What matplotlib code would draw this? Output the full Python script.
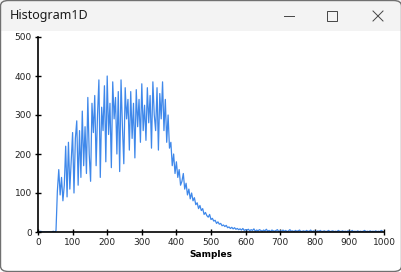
import numpy as np
import matplotlib
matplotlib.use('Agg')
import matplotlib.pyplot as plt
from matplotlib.patches import FancyBboxPatch, Rectangle

# histogram counts, one value per 4-sample bin
counts_start = [0, 0, 2, 0, 0, 0, 0, 0, 0, 0, 0, 2, 0, 3]
counts_body = [105, 160, 95, 140, 80, 120, 220, 90, 230, 110,
               180, 255, 100, 240, 285, 120, 260, 140, 310, 170,
               270, 150, 345, 200, 130, 330, 255, 350, 170, 300,
               390, 140, 320, 260, 375, 180, 400, 250, 330, 165,
               385, 290, 345, 200, 360, 155, 390, 270, 175, 370,
               290, 340, 210, 360, 240, 330, 190, 365, 270, 340,
               230, 380, 260, 325, 235, 370, 280, 350, 215, 385,
               300, 260, 370, 210, 355, 290, 385, 260, 340, 230,
               300, 215, 230, 170, 200, 150, 180, 140, 160, 120,
               130, 150, 110, 125, 95, 110, 85, 100, 80, 88,
               70, 75, 60, 68, 55, 60, 45, 50, 42, 38,
               45, 32, 35, 28, 30, 22, 26, 20, 22, 16,
               18, 14, 17, 11, 13, 9, 12, 8, 11, 7,
               9, 6, 8, 5, 9, 4, 6]
counts_tail = [5, 7, 3, 6, 4, 8, 2, 5, 3, 6,
               4, 2, 5, 3, 7, 2, 4, 1, 5, 3,
               2, 4, 6, 1, 3, 2, 5, 2, 4, 1,
               3, 6, 2, 3, 1, 4, 2, 3, 5, 1,
               2, 3, 1, 4, 2, 2, 5, 1, 3, 2,
               1, 3, 2, 4, 1, 2, 3, 1, 2, 4,
               1, 2, 3, 1, 2, 1, 4, 2, 1, 3,
               1, 2, 1, 3, 2, 1, 4, 1, 2, 1,
               3, 1, 2, 1, 2, 4, 1, 2, 1, 3,
               1, 2, 1, 3, 1, 2, 1, 4, 2]
counts = counts_start + counts_body + counts_tail
bin_width = 4
samples = np.arange(len(counts)) * bin_width

x_ticks = [0, 100, 200, 300, 400, 500, 600, 700, 800, 900, 1000]
y_ticks = [0, 100, 200, 300, 400, 500]

W, H = 402, 272
fig = plt.figure(figsize=(W / 100, H / 100), dpi=100)
fig.patch.set_facecolor('white')

# fenetre : barre de titre + bordure
fig.patches.append(Rectangle((0, 1 - 31 / H), 1, 31 / H, transform=fig.transFigure,
                             facecolor='#f3f3f3', edgecolor='none', zorder=0))
fig.patches.append(FancyBboxPatch((0.5 / W, 0.5 / H), 1 - 1 / W, 1 - 1 / H,
                                  boxstyle='round,pad=0,rounding_size=0.02',
                                  transform=fig.transFigure, facecolor='none',
                                  edgecolor='#707070', lw=1, zorder=5))
fig.text(10 / W, 1 - 16 / H, 'Histogram1D', fontsize=9, family='Noto Sans',
         va='center', ha='left', color='#1a1a1a')
# boutons minimise / maximise / ferme
yc = 1 - 16 / H
fig.add_artist(plt.Line2D([284 / W, 294 / W], [yc, yc], color='#444', lw=0.7,
                          transform=fig.transFigure))
fig.patches.append(Rectangle((327 / W, yc - 5 / H), 10 / W, 10 / H, transform=fig.transFigure,
                             facecolor='none', edgecolor='#444', lw=0.7))
fig.add_artist(plt.Line2D([373 / W, 383 / W], [yc - 5 / H, yc + 5 / H], color='#444', lw=0.7,
                          transform=fig.transFigure))
fig.add_artist(plt.Line2D([373 / W, 383 / W], [yc + 5 / H, yc - 5 / H], color='#444', lw=0.7,
                          transform=fig.transFigure))

ax = fig.add_axes([38 / W, (H - 232) / H, 346 / W, 195 / H])
ax.plot(samples, counts, color='#3f88ea', lw=0.9)
ax.set_xlim(0, 1000)
ax.set_ylim(0, 500)
ax.set_xticks(x_ticks)
ax.set_yticks(y_ticks)
ax.spines['top'].set_visible(False)
ax.spines['right'].set_visible(False)
ax.spines['left'].set_linewidth(1.2)
ax.spines['bottom'].set_linewidth(1.2)
ax.tick_params(direction='inout', length=5, width=1, labelsize=6.5,
               labelcolor='#222222', pad=2)
ax.set_xlabel('Samples', fontsize=6.5, fontweight='bold', labelpad=2)

fig.savefig('out.png', dpi=100)
